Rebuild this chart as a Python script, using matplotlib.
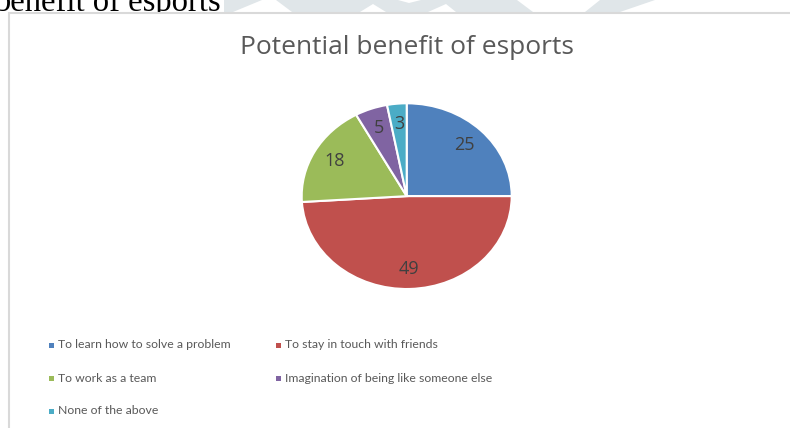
import matplotlib
matplotlib.use("Agg")
import matplotlib.pyplot as plt
from matplotlib.patches import Polygon, Rectangle

# chart data
categories = [
    "To learn how to solve a problem",
    "To stay in touch with friends",
    "To work as a team",
    "Imagination of being like someone else",
    "None of the above",
]
values = [25, 49, 18, 5, 3]
colors = ["#4F81BD", "#C0504D", "#9BBB59", "#8064A2", "#4BACC6"]
title = "Potential benefit of esports"
heading = "benefit of esports"

W, H = 790, 428
fig = plt.figure(figsize=(W / 100, H / 100), dpi=100)

# page layer in pixel coordinates
bg = fig.add_axes([0, 0, 1, 1])
bg.set_xlim(0, W)
bg.set_ylim(H, 0)
bg.axis("off")

# faint watermark strip above the chart box
wm = "#E0E6E9"
bg.add_patch(Polygon([(224, 0), (655, 0), (620, 12), (224, 12)], closed=True,
                     facecolor=wm, edgecolor="none", zorder=1))
for tri in [
    [(233, 12), (292, 12), (276, 0), (262, 0)],
    [(360, 12), (386, 12), (373, 4)],
    [(398, 0), (421, 0), (409, 3)],
    [(428, 12), (456, 12), (446, 4)],
    [(517, 0), (600, 0), (585, 12), (533, 12)],
]:
    bg.add_patch(Polygon(tri, closed=True, facecolor="white",
                         edgecolor="none", zorder=2))

# cut-off document heading
bg.text(-6, 11, heading, family="Liberation Serif", fontsize=23.5,
        color="black", ha="left", va="baseline", zorder=3)

# chart box
bg.add_patch(Rectangle((8.5, 12.5), W, H, facecolor="white",
                       edgecolor="#D9D9D9", linewidth=1.5, zorder=4))

bg.text(407, 47, title, family="Open Sans", fontsize=19, color="#595959",
        ha="center", va="center", zorder=5)

# legend, two columns
col_x = [51, 278]
row_y = [345, 378, 411]
for i, (name, col) in enumerate(zip(categories, colors)):
    x = col_x[i % 2]
    y = row_y[i // 2]
    bg.add_patch(Rectangle((x - 2.5, y - 2.5), 5, 5, facecolor=col,
                           edgecolor="none", zorder=5))
    bg.text(x + 7, y, name, family="Lato", fontsize=8.8,
            color="#595959", ha="left", va="center", zorder=5)

# pie, slightly wider than tall
px0, px1, py0, py1 = 301.7, 511.7, 103.3, 289.0
ax = fig.add_axes([px0 / W, 1 - py1 / H, (px1 - px0) / W, (py1 - py0) / H])
ax.set_zorder(6)
wedges, texts, autotexts = ax.pie(
    values,
    colors=colors,
    startangle=90,
    counterclock=False,
    radius=1,
    autopct=lambda p: f"{round(p * sum(values) / 100):d}",
    pctdistance=0.78,
    wedgeprops=dict(edgecolor="white", linewidth=1.5),
    textprops=dict(color="#404040", fontsize=13, family="Open Sans"),
)
ax.set_xlim(-1, 1)
ax.set_ylim(-1, 1)
ax.set_aspect("auto")
ax.axis("off")

fig.savefig("out.png", dpi=100)
